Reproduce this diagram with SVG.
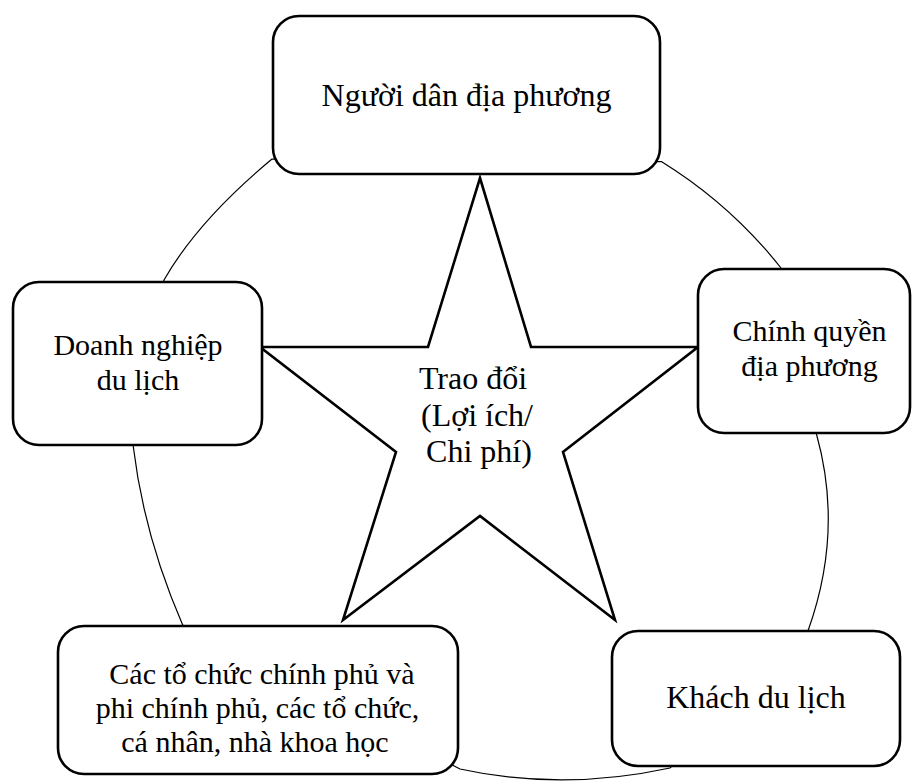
<svg xmlns="http://www.w3.org/2000/svg" width="912" height="781" viewBox="0 0 912 781">
<style>
.box{fill:#fff;stroke:#000;stroke-width:2.6}
.t{font-family:"Liberation Serif","Times New Roman",serif;font-size:32px;fill:#000;text-anchor:middle}
.m{font-size:30px}
.ring{fill:none;stroke:#000;stroke-width:1.2}
.star{fill:#fff;stroke:#000;stroke-width:2.6;stroke-linejoin:miter}
</style>
<rect width="912" height="781" fill="#fff"/>
<g id="connectors">
<path class="ring" d="M272,159 Q198,220.5 164,280 Q140,360 133.3,446.7 Q144,536 182.7,625 L460,769 Q562,791.4 670,768 L808.3,630 Q843.5,531.5 816.7,435 L781,268 Q730.6,204.3 661.7,161.7 Z"/>
</g>
<g id="star">
<polygon class="star" points="480,178 531,347 698,347 563,452 615,620 480,516 343,620 396,452 260,347 428,347"/>
<text class="t"><tspan x="473" y="389">Trao đổi</tspan><tspan x="477" y="426">(Lợi ích/</tspan><tspan x="479" y="462">Chi phí)</tspan></text>
</g>
<g id="node-nguoi-dan">
<rect class="box" x="273" y="16" width="387" height="158" rx="26"/>
<text class="t" x="466.5" y="106">Người dân địa phương</text>
</g>
<g id="node-doanh-nghiep">
<rect class="box" x="13" y="282" width="249" height="163" rx="26"/>
<text class="t m"><tspan x="138" y="355">Doanh nghiệp</tspan><tspan x="138" y="390">du lịch</tspan></text>
</g>
<g id="node-chinh-quyen">
<rect class="box" x="698" y="269" width="212" height="164" rx="26"/>
<text class="t m"><tspan x="809.5" y="341">Chính quyền</tspan><tspan x="809.5" y="376">địa phương</tspan></text>
</g>
<g id="node-to-chuc">
<rect class="box" x="58" y="626" width="400" height="148" rx="26"/>
<text class="t m"><tspan x="262" y="684">Các tổ chức chính phủ và</tspan><tspan x="257.5" y="718">phi chính phủ, các tổ chức,</tspan><tspan x="255" y="752">cá nhân, nhà khoa học</tspan></text>
</g>
<g id="node-khach">
<rect class="box" x="612" y="631" width="288" height="135" rx="26"/>
<text class="t" x="756" y="708">Khách du lịch</text>
</g>
</svg>
